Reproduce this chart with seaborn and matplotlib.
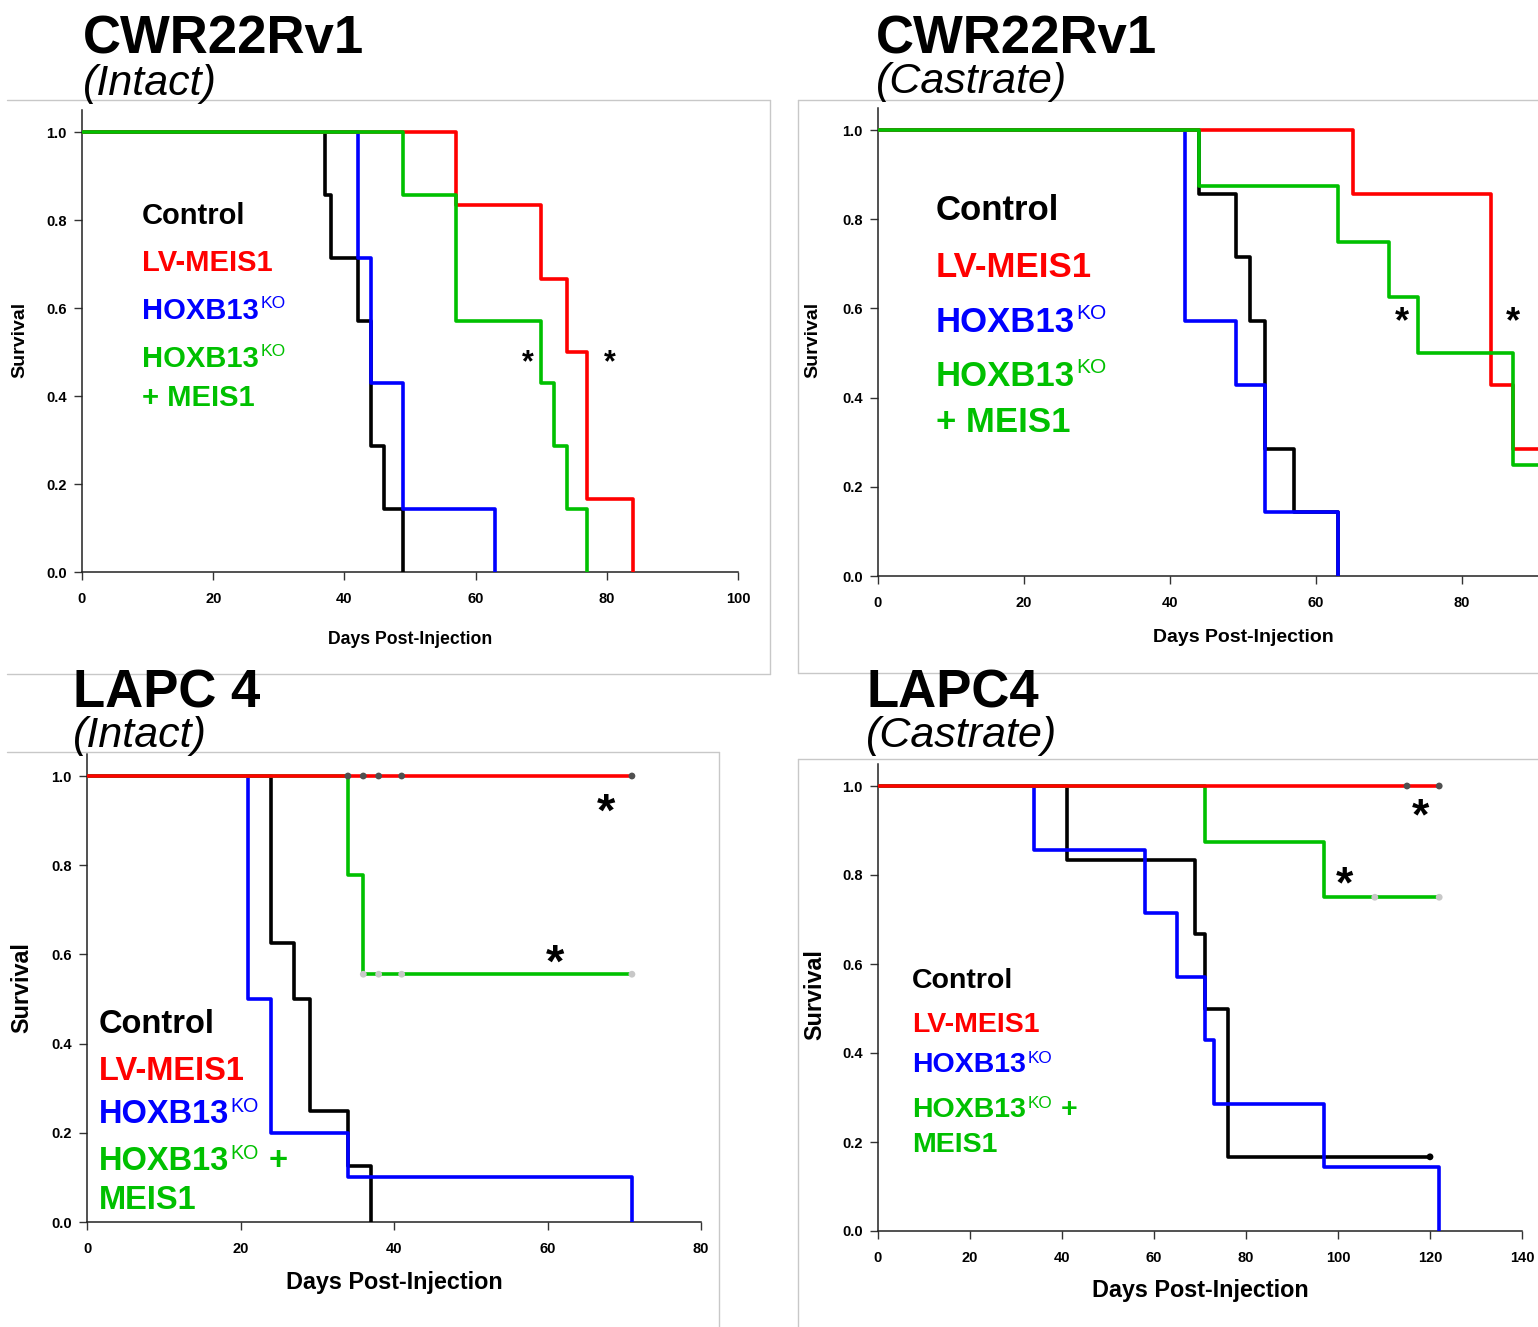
import matplotlib
matplotlib.use("Agg")
import matplotlib.pyplot as plt
from matplotlib.lines import Line2D
import pandas as pd
import seaborn as sns

W, H = 1538, 1327

# ---- survival data: days post-injection, event flag (1 = death, 0 = censored) ----
# CWR22Rv1 intact
rv_int_ctrl = [37, 38, 42, 44, 44, 46, 49]
rv_int_ctrl_ev = [1, 1, 1, 1, 1, 1, 1]
rv_int_meis = [57, 70, 74, 77, 77, 84]
rv_int_meis_ev = [1, 1, 1, 1, 1, 1]
rv_int_ko = [42, 42, 44, 44, 49, 49, 63]
rv_int_ko_ev = [1, 1, 1, 1, 1, 1, 1]
rv_int_komeis = [49, 57, 57, 70, 72, 74, 77]
rv_int_komeis_ev = [1, 1, 1, 1, 1, 1, 1]

# CWR22Rv1 castrate
rv_cas_ctrl = [44, 49, 51, 53, 53, 57, 63]
rv_cas_ctrl_ev = [1, 1, 1, 1, 1, 1, 1]
rv_cas_meis = [65, 84, 84, 84, 87, 95, 95]
rv_cas_meis_ev = [1, 1, 1, 1, 1, 0, 0]
rv_cas_ko = [42, 42, 42, 49, 53, 53, 63]
rv_cas_ko_ev = [1, 1, 1, 1, 1, 1, 1]
rv_cas_komeis = [44, 63, 70, 74, 87, 87, 95, 95]
rv_cas_komeis_ev = [1, 1, 1, 1, 1, 1, 0, 0]

# LAPC4 intact
lp_int_ctrl = [24, 24, 24, 27, 29, 29, 34, 37]
lp_int_ctrl_ev = [1, 1, 1, 1, 1, 1, 1, 1]
lp_int_meis = [34, 36, 38, 41, 71]
lp_int_meis_ev = [0, 0, 0, 0, 0]
lp_int_ko = [21, 21, 21, 21, 21, 24, 24, 24, 34, 71]
lp_int_ko_ev = [1, 1, 1, 1, 1, 1, 1, 1, 1, 1]
lp_int_komeis = [34, 34, 36, 36, 36, 38, 41, 71, 71]
lp_int_komeis_ev = [1, 1, 1, 1, 0, 0, 0, 0, 0]

# LAPC4 castrate
lp_cas_ctrl = [41, 69, 71, 76, 76, 120]
lp_cas_ctrl_ev = [1, 1, 1, 1, 1, 0]
lp_cas_meis = [115, 122]
lp_cas_meis_ev = [0, 0]
lp_cas_ko = [34, 58, 65, 71, 73, 97, 122]
lp_cas_ko_ev = [1, 1, 1, 1, 1, 1, 1]
lp_cas_komeis = [71, 97, 108, 108, 108, 122, 122, 122]
lp_cas_komeis_ev = [1, 1, 0, 0, 0, 0, 0, 0]

COLORS = {"ctrl": "#000000", "meis": "#FF0000", "ko": "#0000FF", "komeis": "#00C000"}


def km_curve(times, events):
    """Kaplan-Meier step points and censor marks"""
    df = pd.DataFrame({"day": times, "event": events})
    surv = 1.0
    steps = [(0.0, 1.0)]
    marks = []
    for day, grp in df.groupby("day"):
        at_risk = (df["day"] >= day).sum()
        deaths = grp["event"].sum()
        surv *= 1 - deaths / at_risk
        steps.append((float(day), surv))
        if (grp["event"] == 0).any():
            marks.append((float(day), surv))
    return (pd.DataFrame(steps, columns=["day", "surv"]),
            pd.DataFrame(marks, columns=["day", "surv"]))


def px_axes(fig, x0, x1, ytop, ybot):
    return fig.add_axes([x0 / W, 1 - ybot / H, (x1 - x0) / W, (ybot - ytop) / H])


def fig_line(fig, x0, y0, x1, y1):
    fig.add_artist(Line2D([x0 / W, x1 / W], [1 - y0 / H, 1 - y1 / H],
                          color="#C8C8C8", lw=1.0))


def to_axes(box, px, py):
    x0, x1, ytop, ybot = box
    return (px - x0) / (x1 - x0), (ybot - py) / (ybot - ytop)


sns.set_style("ticks")
plt.rcParams["font.family"] = ["Liberation Sans", "DejaVu Sans"]
plt.rcParams["text.color"] = "black"
plt.rcParams["axes.labelcolor"] = "black"
plt.rcParams["xtick.color"] = "black"
plt.rcParams["ytick.color"] = "black"

fig = plt.figure(figsize=(W / 100, H / 100), dpi=100)

panels = [
    dict(box=(82, 738, 110, 572), xlim=(0, 100), xticks=[0, 20, 40, 60, 80, 100],
         data={"ctrl": (rv_int_ctrl, rv_int_ctrl_ev), "ko": (rv_int_ko, rv_int_ko_ev),
               "meis": (rv_int_meis, rv_int_meis_ev), "komeis": (rv_int_komeis, rv_int_komeis_ev)},
         order=["ctrl", "ko", "meis", "komeis"], marks={},
         title=("CWR22Rv1", "(Intact)"), title_xy=(83, 53, 95),
         xlab=(410, 640, 12.7), ylab=(20, 340, 14),
         leg=(142, [214, 261, 309, 357, 396], 21, False),
         stars=[(68.0, 0.49), (80.4, 0.49)], star_fs=22),
    dict(box=(878, 1538, 107.7, 576), xlim=(0, 90.4), xticks=[0, 20, 40, 60, 80],
         data={"ctrl": (rv_cas_ctrl, rv_cas_ctrl_ev), "ko": (rv_cas_ko, rv_cas_ko_ev),
               "meis": (rv_cas_meis, rv_cas_meis_ev), "komeis": (rv_cas_komeis, rv_cas_komeis_ev)},
         order=["ctrl", "ko", "meis", "komeis"], marks={},
         title=("CWR22Rv1", "(Castrate)"), title_xy=(876, 53, 93),
         xlab=(1243, 637, 14), ylab=(813, 340, 14),
         leg=(936, [208, 265, 320, 374, 420], 25, False),
         stars=[(71.8, 0.587), (86.9, 0.587)], star_fs=26),
    dict(box=(87, 701, 753.7, 1222), xlim=(0, 80), xticks=[0, 20, 40, 60, 80],
         data={"ctrl": (lp_int_ctrl, lp_int_ctrl_ev), "ko": (lp_int_ko, lp_int_ko_ev),
               "komeis": (lp_int_komeis, lp_int_komeis_ev), "meis": (lp_int_meis, lp_int_meis_ev)},
         order=["ctrl", "ko", "komeis", "meis"],
         marks={"meis": "#505050", "komeis": "#C8C8C8"},
         title=("LAPC 4", "(Intact)"), title_xy=(73, 708, 747),
         xlab=(394, 1283, 16.8), ylab=(22, 988, 16.8),
         leg=(99, [1021, 1068, 1111, 1158, 1197], 23.5, True),
         stars=[(67.6, 0.942), (61.0, 0.603)], star_fs=34),
    dict(box=(878, 1522, 763.75, 1231), xlim=(0, 140), xticks=[0, 20, 40, 60, 80, 100, 120, 140],
         data={"ctrl": (lp_cas_ctrl, lp_cas_ctrl_ev), "ko": (lp_cas_ko, lp_cas_ko_ev),
               "komeis": (lp_cas_komeis, lp_cas_komeis_ev), "meis": (lp_cas_meis, lp_cas_meis_ev)},
         order=["ctrl", "ko", "komeis", "meis"],
         marks={"ctrl": "#000000", "meis": "#505050", "komeis": "#C8C8C8"},
         title=("LAPC4", "(Castrate)"), title_xy=(866, 708, 747),
         xlab=(1200, 1291, 16.8), ylab=(815, 995, 16.8),
         leg=(912, [978, 1022, 1062, 1107, 1142], 20.5, True),
         stars=[(118.0, 0.953), (101.5, 0.80)], star_fs=32),
]

# light gray panel frames
fig_line(fig, 7, 100, 770, 100)
fig_line(fig, 770, 100, 770, 674)
fig_line(fig, 7, 674, 770, 674)
fig_line(fig, 798, 100, 1538, 100)
fig_line(fig, 798, 100, 798, 673)
fig_line(fig, 798, 673, 1538, 673)
fig_line(fig, 7, 752, 719, 752)
fig_line(fig, 719, 752, 719, 1327)
fig_line(fig, 798, 759, 1538, 759)
fig_line(fig, 798, 759, 798, 1327)

for p in panels:
    box = p["box"]
    ax = px_axes(fig, *box)
    for z, g in enumerate(p["order"]):
        times, events = p["data"][g]
        steps, marks = km_curve(times, events)
        sns.lineplot(data=steps, x="day", y="surv", ax=ax, color=COLORS[g], lw=2.6,
                     drawstyle="steps-post", estimator=None, sort=False, zorder=3 + z)
        if g in p["marks"] and len(marks):
            sns.scatterplot(data=marks, x="day", y="surv", ax=ax, color=p["marks"][g],
                            s=24, edgecolor="none", zorder=10 + z, legend=False)

    ax.set_xlim(*p["xlim"])
    ax.set_ylim(0, 1.05)
    ax.set_xticks(p["xticks"])
    ax.set_yticks([0.0, 0.2, 0.4, 0.6, 0.8, 1.0])
    ax.set_yticklabels(["0.0", "0.2", "0.4", "0.6", "0.8", "1.0"])
    ax.tick_params(length=6, width=1, labelsize=10.5, color="#333333")
    ax.tick_params(axis="x", pad=8.5)
    ax.tick_params(axis="y", pad=5)
    for lab in ax.get_xticklabels() + ax.get_yticklabels():
        lab.set_fontweight("bold")
    for s in ["top", "right"]:
        ax.spines[s].set_visible(False)
    for s in ["left", "bottom"]:
        ax.spines[s].set_linewidth(1.1)
        ax.spines[s].set_color("#222222")
    ax.set_facecolor("none")

    # axis labels
    xl_x, xl_y, xl_fs = p["xlab"]
    ax.set_xlabel("Days Post-Injection", fontsize=xl_fs, fontweight="bold")
    ax.xaxis.set_label_coords(*to_axes(box, xl_x, xl_y))
    ax.xaxis.label.set_va("center")
    yl_x, yl_y, yl_fs = p["ylab"]
    ax.set_ylabel("Survival", fontsize=yl_fs, fontweight="bold")
    ax.yaxis.set_label_coords(*to_axes(box, yl_x, yl_y))
    ax.yaxis.label.set_va("center")

    # titles
    tx, tb1, tb2 = p["title_xy"]
    fig.text(tx / W, 1 - tb1 / H, p["title"][0], fontsize=38, fontweight="bold", va="baseline")
    fig.text(tx / W, 1 - tb2 / H, p["title"][1], fontsize=31, style="italic", va="baseline")

    # significance stars
    for sx, sy in p["stars"]:
        ax.annotate("*", xy=(sx, sy), xytext=(0, -0.5 * p["star_fs"]), textcoords="offset points",
                    ha="center", va="baseline", fontsize=p["star_fs"], fontweight="bold",
                    annotation_clip=False, zorder=20)

    # in-plot legend text
    lx, lys, lfs, plus_inline = p["leg"]
    cap = 0.358 * lfs * 100 / 72
    if plus_inline:
        lines = [("Control", None, None, "ctrl"), ("LV-MEIS1", None, None, "meis"),
                 ("HOXB13", "KO", None, "ko"), ("HOXB13", "KO", "+", "komeis"),
                 ("MEIS1", None, None, "komeis")]
    else:
        lines = [("Control", None, None, "ctrl"), ("LV-MEIS1", None, None, "meis"),
                 ("HOXB13", "KO", None, "ko"), ("HOXB13", "KO", None, "komeis"),
                 ("+ MEIS1", None, None, "komeis")]
    for (txt, sup, tail, g), ly in zip(lines, lys):
        c = COLORS[g]
        t = fig.text(lx / W, 1 - (ly + cap) / H, txt, fontsize=lfs, fontweight="bold",
                     color=c, va="baseline")
        if sup:
            k = ax.annotate(sup, xy=(1, 1.06), xycoords=t, xytext=(1, 0), textcoords="offset points",
                            ha="left", va="top", fontsize=lfs * 0.6, color=c)
            if tail:
                ax.annotate(tail, xy=(1, 0), xycoords=(k, t), xytext=(0.3 * lfs, 0),
                            textcoords="offset points", ha="left", va="bottom",
                            fontsize=lfs, fontweight="bold", color=c)

fig.savefig("out.png", dpi=100)
